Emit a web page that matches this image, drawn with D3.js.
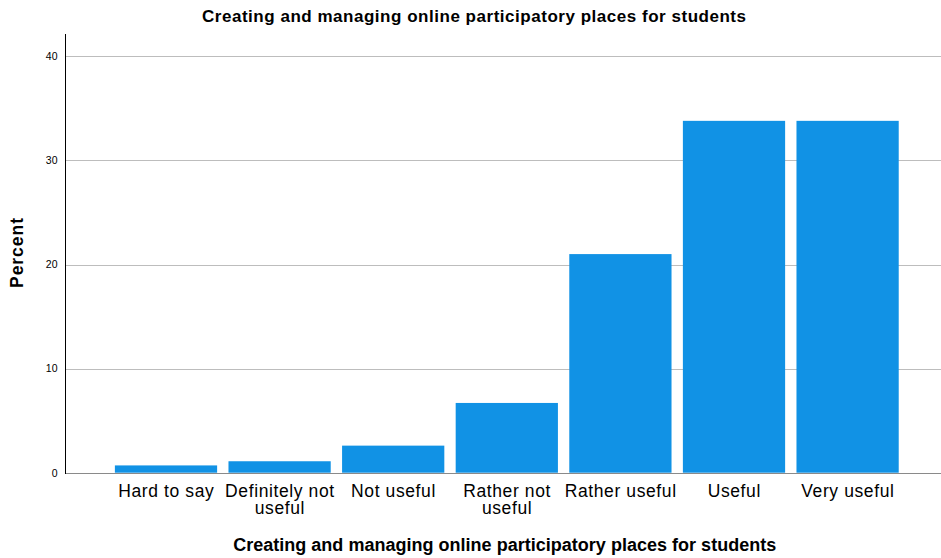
<!DOCTYPE html>
<html>
<head>
<meta charset="utf-8">
<script src="https://cdn.jsdelivr.net/npm/d3@7"></script>
<style>
  html, body { margin: 0; padding: 0; background: #fff; }
  svg { display: block; font-family: "Liberation Sans", Arial, sans-serif; }
</style>
</head>
<body>
<svg id="chart" width="941" height="558"></svg>
<script>
const categories = ["Hard to say", "Definitely not useful", "Not useful", "Rather not useful", "Rather useful", "Useful", "Very useful"];
const percents = [0.7, 1.1, 2.6, 6.7, 21.0, 33.8, 33.8];
const yTicks = [0, 10, 20, 30, 40];
const chartTitle = "Creating and managing online participatory places for students";
const xTitle = "Creating and managing online participatory places for students";
const yTitle = "Percent";

const svg = d3.select("#chart");
const W = 941, H = 558;
const axisX = 65, axisTop = 34;

const x = d3.scaleBand().domain(categories).range([109.2, 904.4]).paddingInner(0.1).paddingOuter(0.05);
const y = d3.scaleLinear().domain([0, 40]).range([472.7, 56.3]);

// gridlines
svg.append("g").selectAll("line").data(yTicks.filter(d => d > 0)).join("line")
  .attr("x1", axisX).attr("x2", W)
  .attr("y1", d => Math.round(y(d)) + 0.5).attr("y2", d => Math.round(y(d)) + 0.5)
  .attr("stroke", "#bdbdbd").attr("stroke-width", 1);

// bars
svg.append("g").selectAll("rect").data(categories).join("rect")
  .attr("x", d => x(d)).attr("width", x.bandwidth())
  .attr("y", (d, i) => y(percents[i]))
  .attr("height", (d, i) => y(0) - y(percents[i]))
  .attr("fill", "#1192e5");

// x baseline
svg.append("line").attr("x1", axisX).attr("x2", W)
  .attr("y1", Math.round(y(0)) + 0.5).attr("y2", Math.round(y(0)) + 0.5)
  .attr("stroke", "#8a8a8a").attr("stroke-width", 1.2);

// y axis line
svg.append("line").attr("x1", axisX + 0.5).attr("x2", axisX + 0.5)
  .attr("y1", axisTop).attr("y2", Math.round(y(0)) + 1)
  .attr("stroke", "#000").attr("stroke-width", 1);

// y tick labels
svg.append("g").selectAll("text").data(yTicks).join("text")
  .attr("x", 57.5).attr("y", d => y(d) + 3.8)
  .attr("text-anchor", "end").attr("font-size", 10.5).attr("fill", "#000")
  .text(d => d);

// x tick labels with wrapping
const xl = svg.append("g");
categories.forEach(c => {
  const t = xl.append("text").attr("text-anchor", "middle").attr("font-size", 17.5)
    .attr("letter-spacing", 0.6).attr("fill", "#000");
  const cx = x(c) + x.bandwidth() / 2;
  const words = c.split(" ");
  const maxW = x.step() + 2;
  let lines = [], cur = [];
  words.forEach(w => {
    const test = cur.concat([w]).join(" ");
    const tmp = t.append("tspan").text(test);
    const len = tmp.node().getComputedTextLength();
    tmp.remove();
    if (len > maxW && cur.length) { lines.push(cur.join(" ")); cur = [w]; }
    else cur.push(w);
  });
  lines.push(cur.join(" "));
  lines.forEach((ln, i) => {
    t.append("tspan").attr("x", cx + 0.3).attr("y", 496.5 + i * 17.8).text(ln);
  });
});

// titles
svg.append("text").attr("x", 474).attr("y", 22.3).attr("text-anchor", "middle")
  .attr("font-size", 17).attr("font-weight", "bold")
  .attr("textLength", 544).attr("lengthAdjust", "spacing").text(chartTitle);
svg.append("text").attr("x", 504.7).attr("y", 551).attr("text-anchor", "middle")
  .attr("font-size", 18).attr("font-weight", "bold")
  .attr("textLength", 543).attr("lengthAdjust", "spacing").text(xTitle);
svg.append("text").attr("transform", "translate(22.7,253) rotate(-90)").attr("text-anchor", "middle")
  .attr("font-size", 17.5).attr("font-weight", "bold")
  .attr("textLength", 70).attr("lengthAdjust", "spacing").text(yTitle);
</script>
</body>
</html>
